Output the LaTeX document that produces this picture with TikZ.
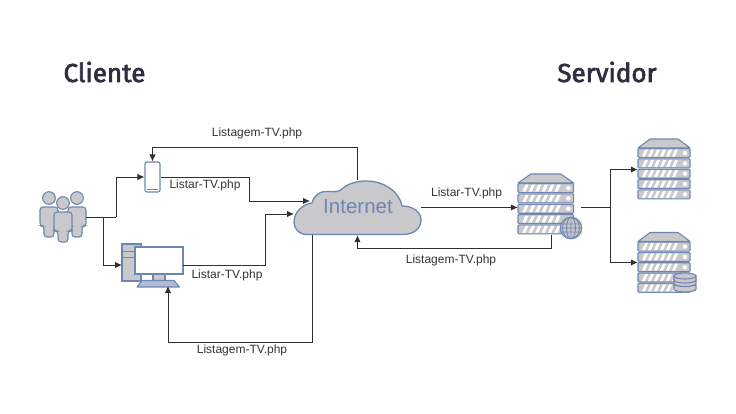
\documentclass[tikz,border=0pt]{standalone}
\usepackage{fontspec}
\setmainfont{Liberation Sans}
\newfontfamily\titlefont[FakeBold=2.5]{Fira Sans}
\usetikzlibrary{positioning, arrows.meta}
\definecolor{device}{HTML}{6F86B3}
\definecolor{body}{HTML}{C9C9CB}
\definecolor{wire}{HTML}{2F2F2F}
\definecolor{heading}{HTML}{2B3040}
\definecolor{caption}{HTML}{333333}

\begin{document}
\begin{tikzpicture}[
  x=1pt, y=-1pt,
  every node/.style={align=center, inner sep=0pt},
  spot/.style={minimum width=#1, minimum height=60pt},
  title/.style={font=\titlefont\fontsize{26}{28}\selectfont, color=heading},
  lbl/.style={font=\fontsize{12}{14}\selectfont, color=caption},
  link/.style={line width=1pt, draw=wire},
  flow/.style={-{Latex[length=7pt, width=6.5pt]}, line width=1pt, draw=wire},
  shell/.style={draw=device, line width=1.1pt, fill=body},
  pane/.style={draw=device, line width=1.1pt, fill=white},
  person/.pic={
    \draw[shell] (0,0) circle (6.3);
    \draw[shell, rounded corners=3pt] (-9,9) -- (9,9) -- (9,28) -- (5,28) -- (5,39)
      -- (-5,39) -- (-5,28) -- (-9,28) -- cycle;
  },
  rack/.pic={
    \draw[shell, line join=round] (0,9) -- (12,0) -- (40,0) -- (52,9) -- cycle;
    \foreach \u in {0,...,4} {
      \draw[shell, rounded corners=1pt] (0,9.6+10.3*\u) rectangle ++(52,9);
      \foreach \s in {0,...,5}
        \fill[white] (4+6*\s,17.6+10.3*\u) -- (7+6*\s,10.6+10.3*\u) -- (10+6*\s,10.6+10.3*\u)
          -- (7+6*\s,17.6+10.3*\u) -- cycle;
      \fill[white] (47,14.1+10.3*\u) circle (2.2);
    }
  },
]
% headings
\useasboundingbox (0,0) rectangle (736,413);
\node[title] (client) at (104.5,72) {Cliente};
\node[title] (server) at (607,72)   {Servidor};

% devices
\node[spot=46pt] (users) at (63,217) {};
\pic at (49,198) {person};
\pic at (77,198) {person};
\pic at (63,203) {person};

\node[pane, rounded corners=2pt, minimum width=15pt, minimum height=30pt] (phone) at (152.5,177) {};
\draw[device, line width=0.6pt] (147,189) -- (158,189);

\node[shell, minimum width=19pt, minimum height=37pt] (tower) at (131.5,262.5) {};
\draw[device, line width=0.8pt] (122,251) -- (141,251) (122,257) -- (141,257);
\node[shell, minimum width=12pt, minimum height=7pt] (stand) at (159,277) {};
\node[pane, minimum width=48pt, minimum height=27pt] (monitor) at (159,260.5) {};
\draw[shell, fill=device!55, line join=round] (142,280.5) -- (174,280.5) -- (179.5,287) -- (137,287) -- cycle;
\coordinate (pcin)   at (122,265);
\coordinate (pcout)  at (183,265);
\coordinate (pcback) at (168,286);

% cloud
\draw[shell, line width=1.3pt] (307,234.5)
  .. controls (299,234.5) and (294,229) .. (294,222)
  .. controls (294,212) and (303,204) .. (312,203)
  .. controls (314,195) and (320,191) .. (327,191.5)
  .. controls (333,191.5) and (339,193) .. (343,188)
  .. controls (349,183) and (358,181) .. (367,181)
  .. controls (382,181) and (399,190) .. (402,206)
  .. controls (413,206) and (421,212) .. (421,220)
  .. controls (421,229) and (413,234.5) .. (403,234.5)
  -- cycle;
\node[minimum width=127pt, minimum height=55pt] (cloud) at (357.5,207.5) {};
\node[font=\fontsize{20.5}{22}\selectfont, color=device] (inet) at (358,207) {Internet};
\coordinate (cloudA) at (310,201);
\coordinate (cloudB) at (294,214);
\coordinate (cloudC) at (312,234.5);

% servers
\node[spot=63pt, minimum height=70pt] (srvmid) at (549.5,207.5) {};
\pic[xscale=1.07] at (518,174) {rack};
\node[pane, draw=none, fill=none] (globe) at (571,228) {};
\draw[shell, line width=1pt] (globe) circle (10.8);
\draw[device, line width=0.9pt] (globe) ellipse (4.5 and 10.8) (globe) ellipse (8.5 and 10.8)
  (560.5,224) -- (581.5,224) (560.5,232) -- (581.5,232) (560.2,228) -- (581.8,228) (571,217.2) -- (571,238.8);

\node[spot=52pt] (srvtop) at (664,169.5) {};
\pic at (638,139) {rack};
\node[spot=52pt] (srvlow) at (664,262.5) {};
\pic at (638,232.5) {rack};

\node[minimum width=22pt, minimum height=18pt] (disk) at (685,282) {};
\foreach \d in {285,279.5,276} {
  \draw[shell] (674,\d) -- (674,\d+4) arc[start angle=180, end angle=0, x radius=11, y radius=3]
    -- (696,\d) -- cycle;
}
\draw[shell] (685,276) ellipse (11 and 3);

% connectors
\coordinate (split)  at (103,217);
\coordinate (riser)  at (116,217);
\coordinate (hopA)   at (249,201);
\coordinate (hopB)   at (265,214);
\coordinate (topturn) at (152.5,147);
\coordinate (lowturn) at (168,342);
\coordinate (srvback) at (551,235);
\coordinate (backturn) at (357.5,248);
\coordinate (fan)    at (610,207.5);
\draw[link] (users.east) -- (riser);
\draw[flow] (split) |- (pcin);
\draw[flow] (riser) |- (phone.west);
\draw[flow] (phone.east) -| (hopA) -- (cloudA);
\draw[flow] (pcout) -| (hopB) -- (cloudB);
\draw[flow] (cloud.north) |- (topturn) -- (phone.north);
\draw[flow] (cloudC) |- (lowturn) -- (pcback);
\draw[flow] (cloud.east) -- node[lbl, above=8pt, pos=0.47]{Listar-TV.php} (srvmid.west);
\draw[flow] (srvback) |- (backturn) -- (cloud.south);
\draw[link] (srvmid.east) -- (fan);
\draw[flow] (fan) |- (srvtop.west);
\draw[flow] (fan) |- (srvlow.west);

% labels
\node[lbl] (listA) at (257,133.5) {Listagem-TV.php};
\node[lbl] (listB) at (205,185.5) {Listar-TV.php};
\node[lbl] (listC) at (227,275.5) {Listar-TV.php};
\node[lbl] (listD) at (242,350.5) {Listagem-TV.php};
\node[lbl] (listE) at (451,260.5) {Listagem-TV.php};
\end{tikzpicture}
\end{document}
